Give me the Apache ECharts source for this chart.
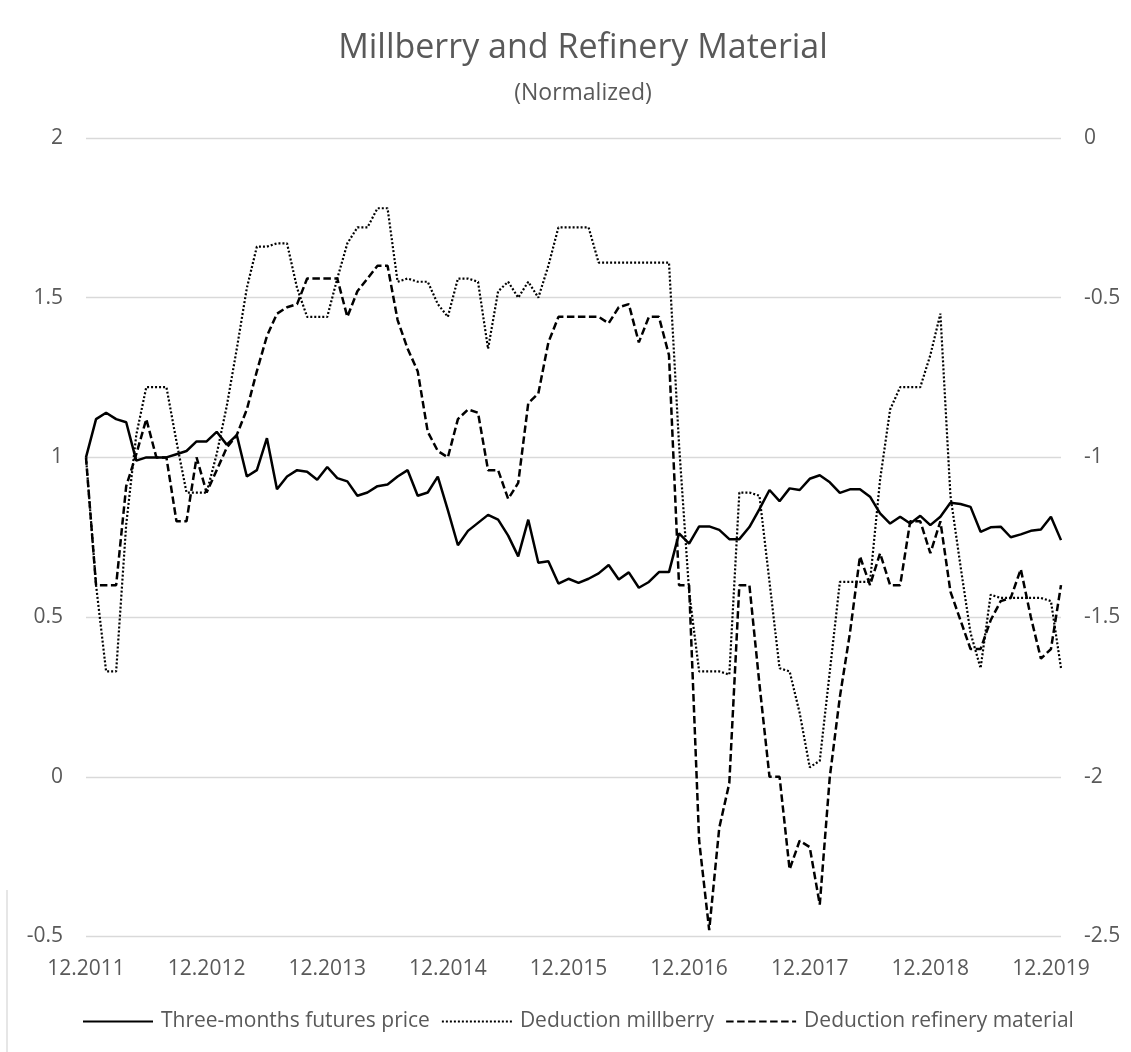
<!DOCTYPE html>
<html>
<head>
<meta charset="utf-8">
<title>Millberry and Refinery Material</title>
<script src="https://cdn.jsdelivr.net/npm/echarts@6.0.0/dist/echarts.min.js"></script>
<style>
  html, body { margin: 0; padding: 0; background: #fff; }
  #main { width: 1131px; height: 1052px; }
</style>
</head>
<body>
<div id="main"></div>
<script>
// monthly labels 12.2011 .. 01.2020
const months = []
for (let i = 0; i < 98; i++) {
  const m = (11 + i) % 12 + 1
  const y = 2011 + Math.floor((11 + i) / 12)
  months.push(String(m).padStart(2, '0') + '.' + y)
}

// left axis
const futuresPrice = [
  1.00, 1.12, 1.14, 1.12, 1.11, 0.99, 1.00, 1.00, 1.00, 1.01,
  1.02, 1.05, 1.05, 1.08, 1.04, 1.07, 0.94, 0.96, 1.06, 0.90,
  0.94, 0.96, 0.955, 0.93, 0.97, 0.935, 0.925, 0.88, 0.89, 0.91,
  0.915, 0.94, 0.96, 0.88, 0.89, 0.94, 0.835, 0.725, 0.77, 0.795,
  0.82, 0.805, 0.755, 0.69, 0.805, 0.67, 0.675, 0.605, 0.62, 0.607,
  0.62, 0.637, 0.663, 0.618, 0.64, 0.592, 0.61, 0.641, 0.641, 0.762,
  0.73, 0.784, 0.784, 0.773, 0.744, 0.744, 0.782, 0.838, 0.898, 0.863,
  0.903, 0.898, 0.933, 0.944, 0.922, 0.889, 0.90, 0.90, 0.877, 0.825,
  0.793, 0.814, 0.793, 0.817, 0.788, 0.814, 0.858, 0.854, 0.845, 0.767,
  0.781, 0.783, 0.75, 0.759, 0.77, 0.774, 0.814, 0.741
]

// right axis
const deductionMillberry = [
  -1.00, -1.40, -1.67, -1.67, -1.21, -0.93, -0.78, -0.78, -0.78, -0.95,
  -1.11, -1.11, -1.11, -0.99, -0.84, -0.66, -0.47, -0.34, -0.34, -0.33,
  -0.33, -0.47, -0.56, -0.56, -0.56, -0.44, -0.33, -0.28, -0.28, -0.22,
  -0.22, -0.45, -0.44, -0.45, -0.45, -0.52, -0.56, -0.44, -0.44, -0.45,
  -0.66, -0.48, -0.45, -0.50, -0.45, -0.50, -0.40, -0.28, -0.28, -0.28,
  -0.28, -0.39, -0.39, -0.39, -0.39, -0.39, -0.39, -0.39, -0.39, -0.96,
  -1.42, -1.67, -1.67, -1.67, -1.68, -1.11, -1.11, -1.12, -1.39, -1.66,
  -1.67, -1.80, -1.97, -1.95, -1.67, -1.39, -1.39, -1.39, -1.39, -1.07,
  -0.85, -0.78, -0.78, -0.78, -0.68, -0.55, -1.12, -1.34, -1.55, -1.66,
  -1.43, -1.44, -1.44, -1.44, -1.44, -1.44, -1.45, -1.66
]

const deductionRefinery = [
  -1.00, -1.40, -1.40, -1.40, -1.09, -0.99, -0.88, -1.00, -1.00, -1.20,
  -1.20, -1.00, -1.11, -1.04, -0.97, -0.93, -0.85, -0.73, -0.62, -0.55,
  -0.53, -0.52, -0.44, -0.44, -0.44, -0.44, -0.56, -0.48, -0.44, -0.40,
  -0.40, -0.57, -0.66, -0.73, -0.92, -0.98, -1.00, -0.88, -0.85, -0.86,
  -1.04, -1.04, -1.13, -1.08, -0.83, -0.80, -0.64, -0.56, -0.56, -0.56,
  -0.56, -0.56, -0.58, -0.53, -0.52, -0.64, -0.56, -0.56, -0.68, -1.40,
  -1.40, -2.20, -2.48, -2.16, -2.02, -1.40, -1.40, -1.71, -2.00, -2.00,
  -2.29, -2.20, -2.22, -2.40, -2.00, -1.75, -1.55, -1.31, -1.40, -1.30,
  -1.40, -1.40, -1.20, -1.20, -1.30, -1.20, -1.42, -1.51, -1.60, -1.60,
  -1.51, -1.45, -1.44, -1.35, -1.50, -1.63, -1.60, -1.40
]

const textColor = '#595959'
const font = 'Open Sans'

const chart = echarts.init(document.getElementById('main'))

chart.setOption({
  animation: false,
  textStyle: { fontFamily: font },
  title: {
    text: 'Millberry and Refinery Material',
    subtext: '(Normalized)',
    left: 578,
    top: 26,
    textAlign: 'center',
    itemGap: 17,
    textStyle: { fontFamily: font, fontSize: 34, fontWeight: 'normal', color: textColor },
    subtextStyle: { fontFamily: font, fontSize: 23, color: textColor }
  },
  grid: {
    left: 86,
    right: 70,
    top: 138,
    bottom: 115.5,
    containLabel: false
  },
  legend: {
    left: 82,
    top: 1011,
    padding: 0,
    itemWidth: 70,
    itemHeight: 14,
    itemGap: 11,
    itemStyle: { opacity: 0 },
    textStyle: { fontFamily: font, fontSize: 21, color: textColor, padding: [0, 0, 0, 3] },
    data: ['Three-months futures price', 'Deduction millberry', 'Deduction refinery material']
  },
  xAxis: {
    type: 'category',
    data: months,
    boundaryGap: false,
    axisLine: { show: false },
    axisTick: { show: false },
    splitLine: { show: false },
    axisLabel: {
      interval: 11,
      margin: 22,
      fontFamily: font,
      fontSize: 21,
      color: textColor
    }
  },
  yAxis: [
    {
      type: 'value',
      min: -0.5,
      max: 2,
      interval: 0.5,
      axisLine: { show: false },
      axisTick: { show: false },
      axisLabel: { margin: 23, fontFamily: font, fontSize: 21, color: textColor },
      splitLine: { lineStyle: { color: '#d9d9d9', width: 1.3 } }
    },
    {
      type: 'value',
      min: -2.5,
      max: 0,
      interval: 0.5,
      axisLine: { show: false },
      axisTick: { show: false },
      axisLabel: { margin: 23, fontFamily: font, fontSize: 21, color: textColor },
      splitLine: { show: false }
    }
  ],
  series: [
    {
      name: 'Three-months futures price',
      type: 'line',
      yAxisIndex: 0,
      data: futuresPrice,
      symbol: 'none',
      lineStyle: { color: '#000', width: 2.5 },
      itemStyle: { color: '#000' }
    },
    {
      name: 'Deduction millberry',
      type: 'line',
      yAxisIndex: 1,
      data: deductionMillberry,
      symbol: 'none',
      lineStyle: { color: '#000', width: 2.2, type: [2, 2] },
      itemStyle: { color: '#000' }
    },
    {
      name: 'Deduction refinery material',
      type: 'line',
      yAxisIndex: 1,
      data: deductionRefinery,
      symbol: 'none',
      lineStyle: { color: '#000', width: 2.5, type: [7.5, 3.5] },
      itemStyle: { color: '#000' }
    }
  ],
  graphic: [
    {
      // piece of the chart-area border seen at the lower left
      type: 'line',
      shape: { x1: 7, y1: 890, x2: 7, y2: 1052 },
      style: { stroke: '#d9d9d9', lineWidth: 1.3 }
    }
  ]
})
</script>
</body>
</html>
